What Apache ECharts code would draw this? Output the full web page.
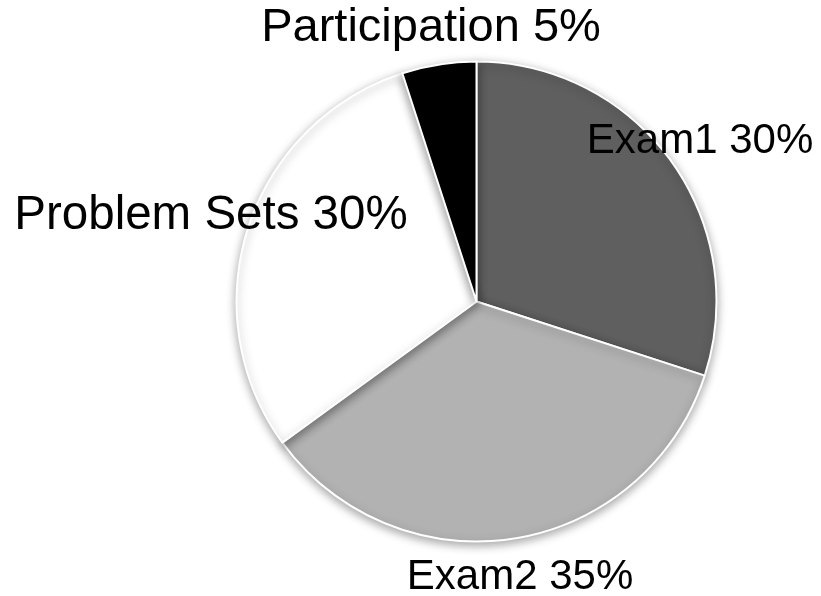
<!DOCTYPE html>
<html>
<head>
<meta charset="utf-8">
<script src="https://cdn.jsdelivr.net/npm/echarts@6/dist/echarts.min.js"></script>
<style>
  html, body { margin: 0; padding: 0; background: #ffffff; }
  #chart { width: 821px; height: 596px; }
</style>
</head>
<body>
<div id="chart"></div>
<script>
// Grade weighting by component (percent of final grade)
const categories = ['Exam1', 'Exam2', 'Problem Sets', 'Participation'];
const weights = [30, 35, 30, 5];
const sliceColors = ['#5f5f5f', '#b2b2b2', '#ffffff', '#000000'];

// Label anchor points (text centre) and sizes, one per slice
const labelAnchors = [
  [700, 141],
  [520, 577],
  [211, 216],
  [431, 28]
];
const labelSizes = [42, 42, 47.5, 47];

const chart = echarts.init(document.getElementById('chart'), null, { renderer: 'canvas' });

chart.setOption({
  animation: false,
  backgroundColor: '#ffffff',
  series: [{
    type: 'pie',
    center: [476.5, 301.5],
    radius: 240,
    startAngle: 90,
    clockwise: true,
    avoidLabelOverlap: false,
    data: categories.map((name, i) => ({
      name: name,
      value: weights[i],
      itemStyle: { color: sliceColors[i] },
      label: { fontSize: labelSizes[i] }
    })),
    itemStyle: {
      borderColor: '#ffffff',
      borderWidth: 2,
      shadowColor: 'rgba(0,0,0,0.35)',
      shadowBlur: 10,
      shadowOffsetY: 3
    },
    label: {
      show: true,
      position: 'outside',
      formatter: '{b} {c}%',
      fontFamily: '"Liberation Sans", Arial, sans-serif',
      color: '#000000'
    },
    labelLine: { show: false },
    labelLayout: function (params) {
      const p = labelAnchors[params.dataIndex];
      return { x: p[0], y: p[1], align: 'center', verticalAlign: 'middle', moveOverlap: false };
    },
    emphasis: { disabled: true }
  }]
});
</script>
</body>
</html>
